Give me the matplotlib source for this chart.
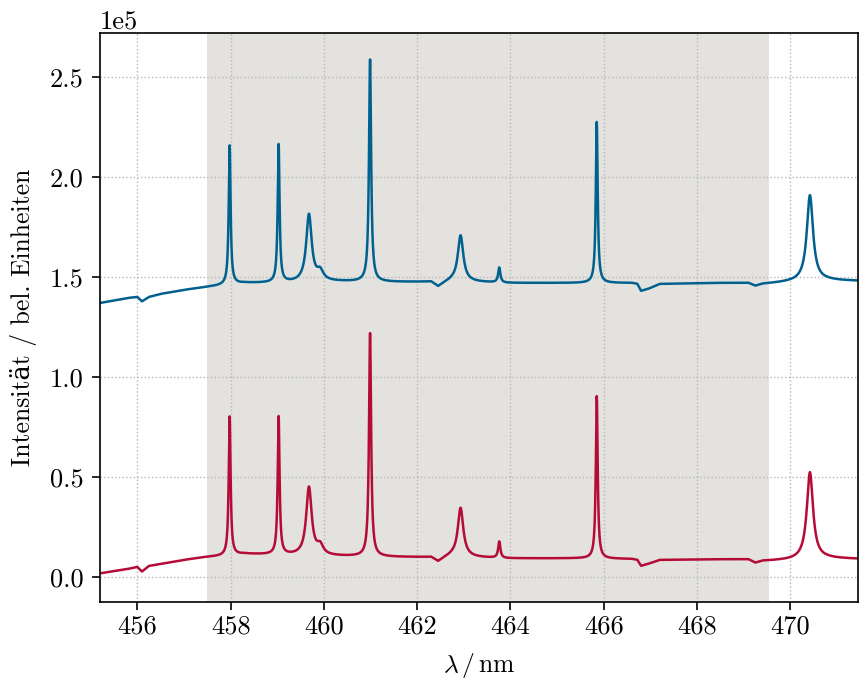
import numpy as np
import matplotlib
matplotlib.use('Agg')
import matplotlib.pyplot as plt

plt.rcParams['font.family'] = ['cmr10', 'DejaVu Serif']
plt.rcParams['mathtext.fontset'] = 'cm'
plt.rcParams['axes.formatter.use_mathtext'] = False
plt.rcParams['axes.unicode_minus'] = False
plt.rcParams['font.size'] = 18

# line positions (nm), amplitudes above baseline, half widths (nm)
peak_pos = [457.98, 459.03, 459.68, 459.92, 460.99, 462.93, 463.76, 465.85, 470.42]
blue_amp = [69500, 69000, 33500, 4500, 111000, 23000, 7500, 80500, 43000]
red_amp = [69500, 69000, 34000, 4500, 111600, 24300, 8200, 81200, 43500]
peak_hwhm = [0.024, 0.024, 0.07, 0.08, 0.027, 0.07, 0.028, 0.024, 0.08]

# baseline knots
base_x = [455.2, 455.8, 456.0, 456.1, 456.25, 456.5, 457.0, 457.5, 457.9, 458.3,
          459.0, 460.0, 461.5, 462.3, 462.45, 462.6, 462.75, 463.3, 463.9, 465.5,
          466.6, 466.72, 466.8, 466.95, 467.2, 468.5, 469.1, 469.25, 469.4, 470.0,
          470.8, 471.5]
blue_base = [137000, 139500, 140000, 137800, 140000, 141500, 143500, 145000, 146000, 147000,
             147000, 147800, 147500, 147500, 145000, 147000, 148000, 147500, 147000, 147000,
             147000, 146500, 143000, 144000, 146500, 147000, 147000, 145500, 146500, 147500,
             148300, 148000]
red_base = [1800, 4000, 5000, 2700, 5500, 6500, 8500, 10000, 10500, 11500,
            11000, 10500, 10000, 9800, 7500, 9500, 10500, 9800, 9300, 9300,
            9000, 8500, 5500, 6500, 8500, 8800, 8800, 7000, 8000, 8500,
            9300, 9000]

wl = np.arange(455.2, 471.5, 0.005)


def spectrum(base, amps):
    y = np.interp(wl, base_x, base)
    for x0, a, g in zip(peak_pos, amps, peak_hwhm):
        y = y + a * g**2 / ((wl - x0)**2 + g**2)
    return y


blue = spectrum(blue_base, blue_amp)
red = spectrum(red_base, red_amp)

fig = plt.figure(figsize=(8.59, 6.82), dpi=100)
ax = fig.add_axes([0.1164, 0.1173, 0.8824, 0.8343])

ax.axvspan(457.5, 469.55, color='#e3e2de', zorder=0, lw=0)
ax.plot(wl, blue, color='#00618f', lw=1.8)
ax.plot(wl, red, color='#b50b37', lw=1.8)

ax.set_xlim(455.2, 471.45)
ax.set_ylim(-12500, 272000)
ax.set_xticks(np.arange(456, 471, 2))
ax.ticklabel_format(axis='y', style='sci', scilimits=(0, 0))
ax.grid(True, linestyle=':', color='#b8b8b8', lw=1.0)
ax.tick_params(direction='out', length=6, width=1.2, labelsize=19)
ax.tick_params(axis='y', pad=6)
ax.yaxis.get_offset_text().set_fontsize(19)
for s in ax.spines.values():
    s.set_linewidth(1.2)

ax.set_xlabel(r'$\lambda\,/\,\mathrm{nm}$', fontsize=18.5, labelpad=9)
ax.set_ylabel('Intensität / bel. Einheiten', fontsize=18.5, labelpad=9)

fig.savefig('out.png', dpi=100)
